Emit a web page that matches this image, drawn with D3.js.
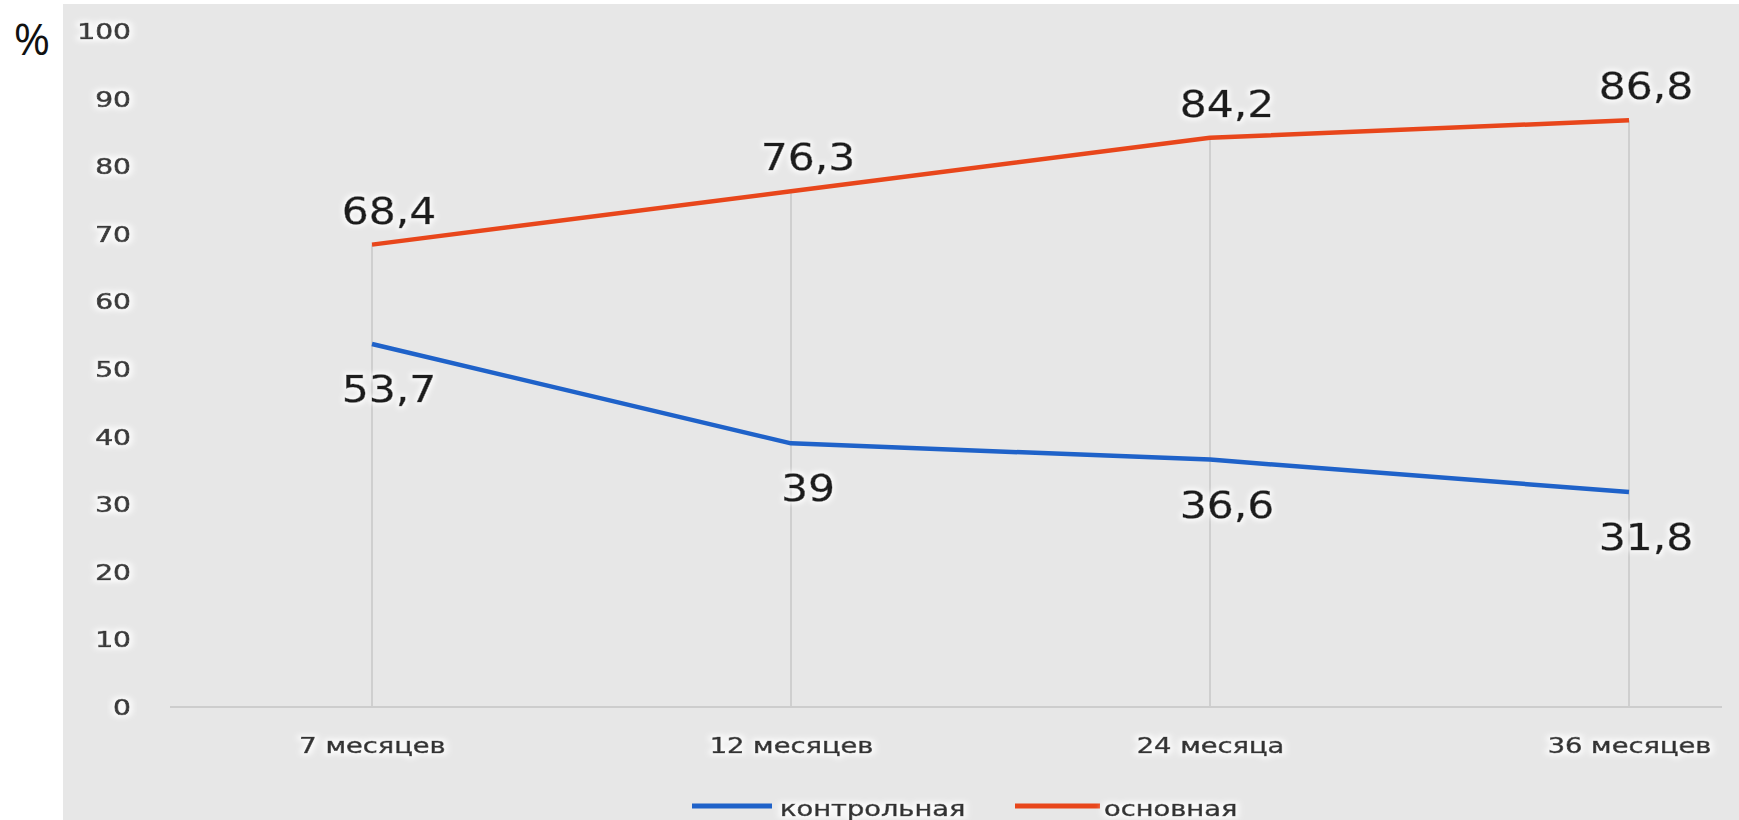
<!DOCTYPE html>
<html>
<head>
<meta charset="utf-8">
<script src="https://cdn.jsdelivr.net/npm/d3@7"></script>
<style>
html,body{margin:0;padding:0;background:#fff;}
svg{display:block;}
</style>
</head>
<body>
<svg id="chart" width="1739" height="820"></svg>
<script>
const categories = ["7 месяцев", "12 месяцев", "24 месяца", "36 месяцев"];
const seriesNames = ["контрольная", "основная"];
const controlValues = [53.7, 39, 36.6, 31.8];
const mainValues = [68.4, 76.3, 84.2, 86.8];
const controlLabels = ["53,7", "39", "36,6", "31,8"];
const mainLabels = ["68,4", "76,3", "84,2", "86,8"];
const yTicks = [0, 10, 20, 30, 40, 50, 60, 70, 80, 90, 100];
const colors = {"контрольная": "#1f62c9", "основная": "#e8461b"};

const svg = d3.select("#chart");
const W = 1739, H = 820;

// filter for white halo around text
const defs = svg.append("defs");
const f = defs.append("filter").attr("id", "halo").attr("x", "-30%").attr("y", "-30%").attr("width", "160%").attr("height", "160%");
f.append("feMorphology").attr("in", "SourceAlpha").attr("operator", "dilate").attr("radius", 2).attr("result", "d");
f.append("feGaussianBlur").attr("in", "d").attr("stdDeviation", 2.5).attr("result", "b");
f.append("feFlood").attr("flood-color", "#ffffff").attr("flood-opacity", 0.85);
f.append("feComposite").attr("in2", "b").attr("operator", "in").attr("result", "g");
const m = f.append("feMerge");
m.append("feMergeNode").attr("in", "g");
m.append("feMergeNode").attr("in", "SourceGraphic");

// background panel
svg.append("rect").attr("x", 63).attr("y", 4).attr("width", W - 63).attr("height", H - 4).attr("fill", "#e7e7e7");

const x = d3.scalePoint().domain(categories).range([372, 1629]);
const y = d3.scaleLinear().domain([0, 100]).range([707, 31]);

// "%" label
svg.append("text").attr("x", 32).attr("y", 55).attr("text-anchor", "middle")
  .attr("font-family", "Open Sans, sans-serif").attr("font-size", 44).attr("fill", "#111").text("%");

// y axis tick labels
const yAxis = d3.axisLeft(y).tickValues(yTicks).tickSize(0).tickFormat(d3.format("d"));
const yg = svg.append("g").attr("transform", "translate(131,0)").call(yAxis);
yg.select(".domain").remove();
yg.selectAll(".tick text")
  .attr("x", 0).attr("dy", "0.36em")
  .attr("font-family", "DejaVu Sans, sans-serif").attr("font-size", 21)
  .attr("fill", "#3a3a3a").attr("stroke", "#3a3a3a").attr("stroke-width", 0.7)
  .attr("text-anchor", "end")
  .attr("transform", "scale(1.34,1)")
  .attr("filter", "url(#halo)");

// drop lines
svg.append("g").selectAll("line").data(categories).join("line")
  .attr("x1", d => x(d)).attr("x2", d => x(d))
  .attr("y1", (d, i) => y(Math.max(mainValues[i], controlValues[i])))
  .attr("y2", y(0))
  .attr("stroke", "#cfcfcf").attr("stroke-width", 2);

// baseline (x axis)
const xAxis = d3.axisBottom(x).tickSize(0);
const xg = svg.append("g").attr("transform", `translate(0,${y(0)})`).call(xAxis);
xg.select(".domain").attr("d", `M170,0H1722`).attr("stroke", "#cdcdcd").attr("stroke-width", 2);
xg.selectAll(".tick text").remove();
xg.selectAll(".tick").append("text")
  .attr("y", 46).attr("text-anchor", "middle")
  .attr("font-family", "DejaVu Sans, sans-serif").attr("font-size", 21)
  .attr("fill", "#333").attr("stroke", "#333").attr("stroke-width", 0.6)
  .attr("transform", "scale(1.3,1)")
  .attr("filter", "url(#halo)")
  .text(d => d);

// lines
const line = d3.line().x((d, i) => x(categories[i])).y(d => y(d));
const seriesData = [
  {name: "контрольная", values: controlValues, labels: controlLabels, dy: 58},
  {name: "основная", values: mainValues, labels: mainLabels, dy: -21}
];
svg.append("g").selectAll("path").data(seriesData).join("path")
  .attr("d", s => line(s.values))
  .attr("fill", "none").attr("stroke", s => colors[s.name])
  .attr("stroke-width", 4.5).attr("stroke-linejoin", "round");

// data labels
seriesData.forEach(s => {
  svg.append("g").selectAll("text").data(s.values).join("text")
    .attr("transform", (d, i) => `translate(${x(categories[i]) + 17},${y(d) + s.dy}) scale(1.12,1)`)
    .attr("text-anchor", "middle")
    .attr("font-family", "DejaVu Sans, sans-serif").attr("font-size", 38)
    .attr("fill", "#1e1e1e").attr("stroke", "#1e1e1e").attr("stroke-width", 0.5)
    .attr("filter", "url(#halo)")
    .text((d, i) => s.labels[i]);
});

// legend
const legendItems = [
  {name: "контрольная", x0: 692, x1: 772, tx: 780},
  {name: "основная", x0: 1015, x1: 1100, tx: 1104}
];
const lg = svg.append("g");
legendItems.forEach(it => {
  lg.append("line").attr("x1", it.x0).attr("x2", it.x1).attr("y1", 806).attr("y2", 806)
    .attr("stroke", colors[it.name]).attr("stroke-width", 5);
  lg.append("text").attr("transform", `translate(${it.tx},816) scale(1.3,1)`)
    .attr("font-family", "DejaVu Sans, sans-serif").attr("font-size", 21)
    .attr("fill", "#333").attr("stroke", "#333").attr("stroke-width", 0.6)
    .attr("filter", "url(#halo)").text(it.name);
});
</script>
</body>
</html>
